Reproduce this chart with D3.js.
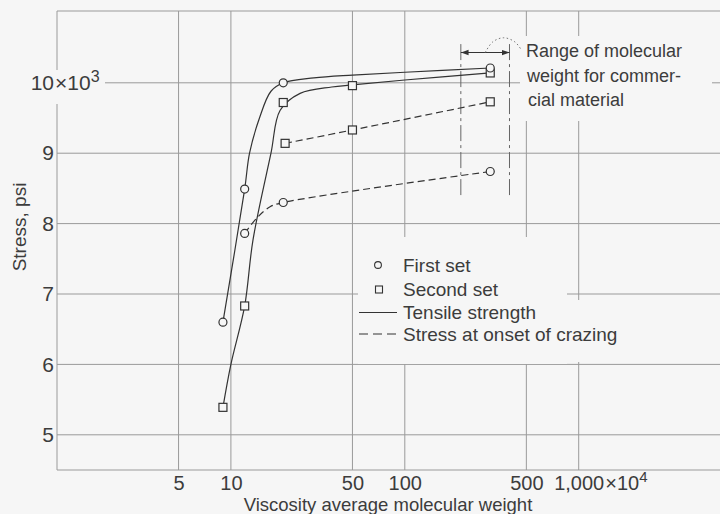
<!DOCTYPE html>
<html>
<head>
<meta charset="utf-8">
<script src="https://cdn.jsdelivr.net/npm/d3@7"></script>
<style>
  body { margin: 0; background: #f6f6f6; }
  text { font-family: "Liberation Sans", Arial, sans-serif; fill: #3c3c3c; }
</style>
</head>
<body>
<div id="chart"></div>
<script>
// tick values (x = viscosity average molecular weight x10^4, y = stress x10^3 psi)
const xTickValues = [5, 10, 50, 100, 500, 1000];
const yTickValues = [5, 6, 7, 8, 9, 10];

// first set (circles)
const firstTensileX = [9, 12, 20, 310];
const firstTensileY = [6.6, 8.49, 10.0, 10.21];
const firstCrazeX = [12, 20, 310];
const firstCrazeY = [7.86, 8.3, 8.74];

// second set (squares)
const secondTensileX = [9, 12, 20, 50, 310];
const secondTensileY = [5.39, 6.83, 9.72, 9.96, 10.14];
const secondCrazeX = [20.5, 50, 310];
const secondCrazeY = [9.14, 9.33, 9.73];

// faired curves as drawn on the original
const firstTensileCurve = [[9, 6.6], [12, 8.49], [12.8, 9.0], [14.6, 9.5], [17, 9.88], [20, 10.0], [30, 10.07], [50, 10.11], [100, 10.15], [310, 10.21]];
const secondTensileCurve = [[9, 5.39], [10, 6.0], [12, 6.83], [13.4, 7.77], [17, 9.0], [19.2, 9.61], [25, 9.85], [38, 9.94], [50, 9.97], [100, 10.04], [310, 10.14]];
const firstCrazeCurve = [[12, 7.86], [14.1, 8.08], [16.8, 8.24], [20, 8.3], [310, 8.74]];
const secondCrazeCurve = [[20.5, 9.14], [50, 9.33], [310, 9.73]];

// commercial molecular weight range annotation
const rangeCommercial = [210, 400];
const rangeArrowY = 10.43;
const rangeLineY = [10.55, 8.35];
const rangeArc = [[290, 10.43], [320, 10.58], [370, 10.64], [430, 10.58], [470, 10.46]];
const rangeText = ["Range of molecular", "weight for commer-", "cial material"];

const legendItems = ["First set", "Second set", "Tensile strength", "Stress at onset of crazing"];

const W = 720, H = 514;
const bg = "#f6f6f6";
const gridColor = "#9a9a9a";
const ink = "#333";

const x = d3.scaleLog().domain([1, 10000]).range([57, 57 + 4 * 173.9]);
const y = d3.scaleLinear().domain([4.5, 11.02]).range([470, 11]);

const svg = d3.select("#chart").append("svg")
  .attr("width", W)
  .attr("height", H);

svg.append("rect").attr("width", W).attr("height", H).attr("fill", bg);

//grid + frame
const grid = svg.append("g").attr("stroke", gridColor).attr("stroke-width", 1).attr("fill", "none");
grid.selectAll(".hgrid").data(yTickValues).enter().append("line")
  .attr("x1", x(1)).attr("x2", W)
  .attr("y1", d => y(d)).attr("y2", d => y(d));
grid.selectAll(".vgrid").data(xTickValues).enter().append("line")
  .attr("x1", d => x(d)).attr("x2", d => x(d))
  .attr("y1", y(11.02)).attr("y2", y(4.5));
grid.append("line").attr("x1", x(1)).attr("x2", x(1)).attr("y1", y(11.02)).attr("y2", y(4.5));
grid.append("line").attr("x1", x(1)).attr("x2", W).attr("y1", y(11.02)).attr("y2", y(11.02));
grid.append("line").attr("x1", x(1)).attr("x2", W).attr("y1", y(4.5)).attr("y2", y(4.5));

// gaps in the grid where lettering sits
const gaps = [
  [30, 70, 75, 34],    // 10x10^3 label
  [520, 36, 192, 85],  // range note
  [358, 237, 209, 127],// legend
  [567, 300, 53, 62]
];
svg.selectAll(".gap").data(gaps).enter().append("rect")
  .attr("x", d => d[0]).attr("y", d => d[1])
  .attr("width", d => d[2]).attr("height", d => d[3])
  .attr("fill", bg);

// range annotation
const defs = svg.append("defs");
defs.append("marker")
  .attr("id", "arr")
  .attr("viewBox", "0 0 10 10")
  .attr("refX", 10).attr("refY", 5)
  .attr("markerWidth", 7).attr("markerHeight", 7)
  .attr("orient", "auto-start-reverse")
  .append("path").attr("d", "M0,1.5L10,5L0,8.5z").attr("fill", ink);

const note = svg.append("g");
note.selectAll(".bracket").data(rangeCommercial).enter().append("line")
  .attr("x1", d => x(d)).attr("x2", d => x(d))
  .attr("y1", y(rangeLineY[0])).attr("y2", y(rangeLineY[1]))
  .attr("stroke", "#666").attr("stroke-width", 1)
  .attr("stroke-dasharray", "16,4,3,4");
note.append("line")
  .attr("x1", x(rangeCommercial[0])).attr("x2", x(rangeCommercial[1]))
  .attr("y1", y(rangeArrowY)).attr("y2", y(rangeArrowY))
  .attr("stroke", ink).attr("stroke-width", 1.1)
  .attr("marker-start", "url(#arr)").attr("marker-end", "url(#arr)");
note.append("path")
  .attr("d", d3.line().x(d => x(d[0])).y(d => y(d[1])).curve(d3.curveCatmullRom)(rangeArc))
  .attr("fill", "none").attr("stroke", "#777").attr("stroke-width", 1)
  .attr("stroke-dasharray", "1.5,2.5");
note.selectAll(".ntext").data(rangeText).enter().append("text")
  .attr("x", (d, i) => 526 + i)
  .attr("y", (d, i) => 57 + i * 24.5)
  .attr("font-size", 18)
  .text(d => d);

// curves
const curve = d3.line()
  .x(d => x(d[0]))
  .y(d => y(d[1]))
  .curve(d3.curveCatmullRom.alpha(0.5));

const lines = svg.append("g").attr("fill", "none").attr("stroke", ink).attr("stroke-width", 1.2);
lines.append("path").attr("d", curve(firstTensileCurve));
lines.append("path").attr("d", curve(secondTensileCurve));
lines.append("path").attr("d", curve(firstCrazeCurve)).attr("stroke-dasharray", "7,4");
lines.append("path").attr("d", curve(secondCrazeCurve)).attr("stroke-dasharray", "7,4");

// markers
const r = 4;
const circles = d3.zip(firstTensileX, firstTensileY).concat(d3.zip(firstCrazeX, firstCrazeY));
const squares = d3.zip(secondTensileX, secondTensileY).concat(d3.zip(secondCrazeX, secondCrazeY));

svg.selectAll(".sq").data(squares).enter().append("rect")
  .attr("x", d => x(d[0]) - r).attr("y", d => y(d[1]) - r)
  .attr("width", 2 * r).attr("height", 2 * r)
  .attr("fill", bg).attr("stroke", ink).attr("stroke-width", 1.2);
svg.selectAll(".ci").data(circles).enter().append("circle")
  .attr("cx", d => x(d[0])).attr("cy", d => y(d[1])).attr("r", r)
  .attr("fill", bg).attr("stroke", ink).attr("stroke-width", 1.2);

// axes
const xAxis = d3.axisBottom(x).tickValues(xTickValues).tickSize(0).tickPadding(6)
  .tickFormat(d => d3.format(",")(d));
const xAxisGroup = svg.append("g").attr("transform", "translate(0," + y(4.5) + ")").call(xAxis);
xAxisGroup.select(".domain").remove();
xAxisGroup.selectAll("text").attr("font-size", 20).attr("font-family", null).attr("fill", null);

const yAxis = d3.axisLeft(y).tickValues(yTickValues).tickSize(0).tickPadding(3)
  .tickFormat(d3.format("d"));
const yAxisGroup = svg.append("g").attr("transform", "translate(" + x(1) + ",0)").call(yAxis);
yAxisGroup.select(".domain").remove();
yAxisGroup.selectAll("text").attr("font-size", 21).attr("font-family", null).attr("fill", null);

// multiplier on the top tick labels
yAxisGroup.selectAll(".tick").filter(d => d === 10).append("text")
  .attr("x", -2).attr("dy", "0.32em").attr("font-size", 21).attr("text-anchor", "start")
  .html('×10<tspan dy="-8" font-size="16">3</tspan>');
xAxisGroup.selectAll(".tick").filter(d => d === 1000).each(function () {
  const t = d3.select(this).select("text");
  const w = t.node().getComputedTextLength();
  d3.select(this).append("text")
    .attr("x", w / 2 + 1).attr("y", 6).attr("dy", "0.71em")
    .attr("font-size", 20).attr("text-anchor", "start")
    .html('×10<tspan dy="-8" font-size="15">4</tspan>');
});

svg.append("text")
  .attr("x", 388).attr("y", 511)
  .attr("text-anchor", "middle").attr("font-size", 18.5)
  .text("Viscosity average molecular weight");
svg.append("text")
  .attr("transform", "translate(26,227) rotate(-90)")
  .attr("text-anchor", "middle").attr("font-size", 19)
  .text("Stress, psi");

// legend
const legend = svg.append("g").attr("transform", "translate(359,0)");
legend.append("circle").attr("cx", 19).attr("cy", 265).attr("r", 3.4)
  .attr("fill", "none").attr("stroke", ink).attr("stroke-width", 1.1);
legend.append("rect").attr("x", 16.5).attr("y", 286).attr("width", 7).attr("height", 7)
  .attr("fill", "none").attr("stroke", ink).attr("stroke-width", 1.1);
legend.append("line").attr("x1", 0).attr("x2", 38).attr("y1", 312.5).attr("y2", 312.5)
  .attr("stroke", ink).attr("stroke-width", 1.1);
legend.append("line").attr("x1", 0).attr("x2", 38).attr("y1", 334).attr("y2", 334)
  .attr("stroke", ink).attr("stroke-width", 1.1).attr("stroke-dasharray", "9,5");
legend.selectAll(".ltext").data(legendItems).enter().append("text")
  .attr("x", 44)
  .attr("y", (d, i) => [272, 296, 318.5, 340.5][i])
  .attr("font-size", 19)
  .text(d => d);
</script>
</body>
</html>
